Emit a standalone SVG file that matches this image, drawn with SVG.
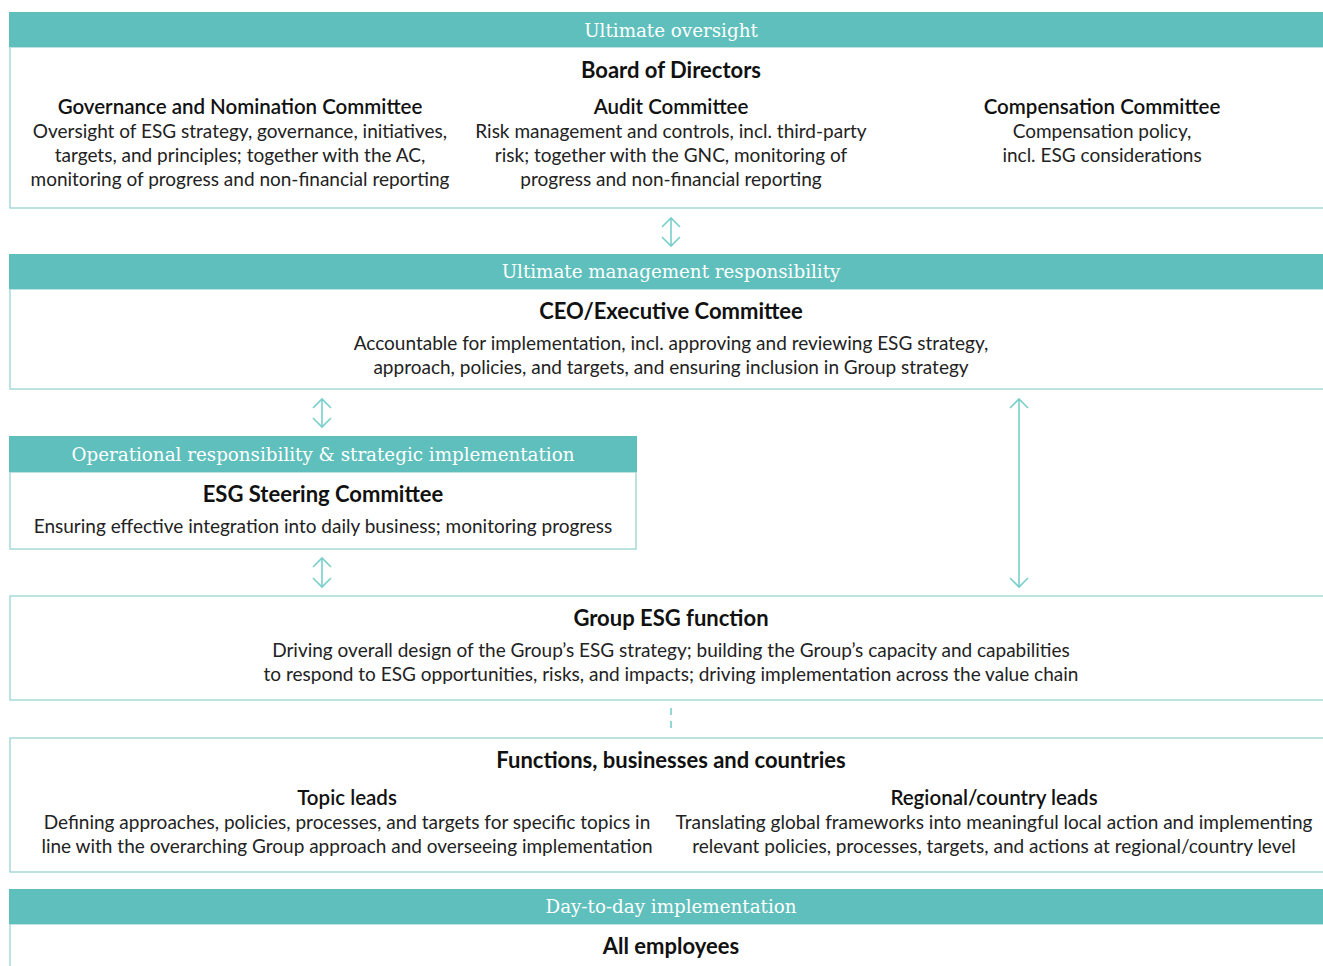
<svg xmlns="http://www.w3.org/2000/svg" width="1323" height="966" viewBox="0 0 1323 966">
<style>
.hdr{fill:#5FBFBC}
.box{fill:#fff;stroke:#A6DAD7;stroke-width:1.5}
.ht{font-family:"DejaVu Serif","Liberation Serif",serif;font-size:18.3px;fill:#fff;text-anchor:middle}
.t1{font-family:Lato,"Liberation Sans",sans-serif;font-size:22px;font-weight:700;fill:#111;text-anchor:middle}
.t2{font-family:Lato,"Liberation Sans",sans-serif;font-size:20.5px;font-weight:600;fill:#111;text-anchor:middle}
.tb{font-family:Lato,"Liberation Sans",sans-serif;font-size:19px;fill:#222;text-anchor:middle}
.arr{fill:none;stroke:#7ACFCB;stroke-width:1.6}
</style>
<rect width="1323" height="966" fill="#fff"/>

<g id="board">
<rect class="box" x="10" y="47" width="1330" height="161"/>
<rect class="hdr" x="9" y="12" width="1320" height="35"/>
<text class="ht" x="671" y="37">Ultimate oversight</text>
<text class="t1" x="671" y="78">Board of Directors</text>
<text class="t2" x="240" y="114">Governance and Nomination Committee</text>
<text class="tb" x="240" y="138">Oversight of ESG strategy, governance, initiatives,</text>
<text class="tb" x="240" y="162">targets, and principles; together with the AC,</text>
<text class="tb" x="240" y="186">monitoring of progress and non-financial reporting</text>
<text class="t2" x="671" y="114">Audit Committee</text>
<text class="tb" x="671" y="138">Risk management and controls, incl. third-party</text>
<text class="tb" x="671" y="162">risk; together with the GNC, monitoring of</text>
<text class="tb" x="671" y="186">progress and non-financial reporting</text>
<text class="t2" x="1102" y="114">Compensation Committee</text>
<text class="tb" x="1102" y="138">Compensation policy,</text>
<text class="tb" x="1102" y="162">incl. ESG considerations</text>
</g>

<g id="ceo">
<rect class="box" x="10" y="289" width="1330" height="100"/>
<rect class="hdr" x="9" y="254" width="1320" height="35"/>
<text class="ht" x="671" y="278">Ultimate management responsibility</text>
<text class="t1" x="671" y="319">CEO/Executive Committee</text>
<text class="tb" x="671" y="350">Accountable for implementation, incl. approving and reviewing ESG strategy,</text>
<text class="tb" x="671" y="374">approach, policies, and targets, and ensuring inclusion in Group strategy</text>
</g>

<g id="steering">
<rect class="box" x="10" y="472" width="626" height="77"/>
<rect class="hdr" x="9" y="436" width="628" height="36"/>
<text class="ht" x="323" y="461">Operational responsibility &amp; strategic implementation</text>
<text class="t1" x="323" y="502">ESG Steering Committee</text>
<text class="tb" x="323" y="533">Ensuring effective integration into daily business; monitoring progress</text>
</g>

<g id="groupesg">
<rect class="box" x="10" y="596" width="1330" height="104"/>
<text class="t1" x="671" y="626">Group ESG function</text>
<text class="tb" x="671" y="657">Driving overall design of the Group’s ESG strategy; building the Group’s capacity and capabilities</text>
<text class="tb" x="671" y="681">to respond to ESG opportunities, risks, and impacts; driving implementation across the value chain</text>
</g>

<g id="functions">
<rect class="box" x="10" y="738" width="1330" height="134"/>
<text class="t1" x="671" y="768">Functions, businesses and countries</text>
<text class="t2" x="347" y="805">Topic leads</text>
<text class="tb" x="347" y="829">Defining approaches, policies, processes, and targets for specific topics in</text>
<text class="tb" x="347" y="853">line with the overarching Group approach and overseeing implementation</text>
<text class="t2" x="994" y="805">Regional/country leads</text>
<text class="tb" x="994" y="829">Translating global frameworks into meaningful local action and implementing</text>
<text class="tb" x="994" y="853">relevant policies, processes, targets, and actions at regional/country level</text>
</g>

<g id="employees">
<rect class="box" x="10" y="924" width="1330" height="60"/>
<rect class="hdr" x="9" y="889" width="1320" height="35"/>
<text class="ht" x="671" y="913">Day-to-day implementation</text>
<text class="t1" x="671" y="954">All employees</text>
</g>

<g id="connectors">
<path class="arr" d="M671 218V246M662 227L671 218L680 227M662 237L671 246L680 237"/>
<path class="arr" d="M322 399V427M313 408L322 399L331 408M313 418L322 427L331 418"/>
<path class="arr" d="M322 558V587M313 567L322 558L331 567M313 578L322 587L331 578"/>
<path class="arr" d="M1019 399V587M1010 408L1019 399L1028 408M1010 578L1019 587L1028 578"/>
<path class="arr" d="M671 708V728" stroke-dasharray="7 6"/>
</g>
</svg>
